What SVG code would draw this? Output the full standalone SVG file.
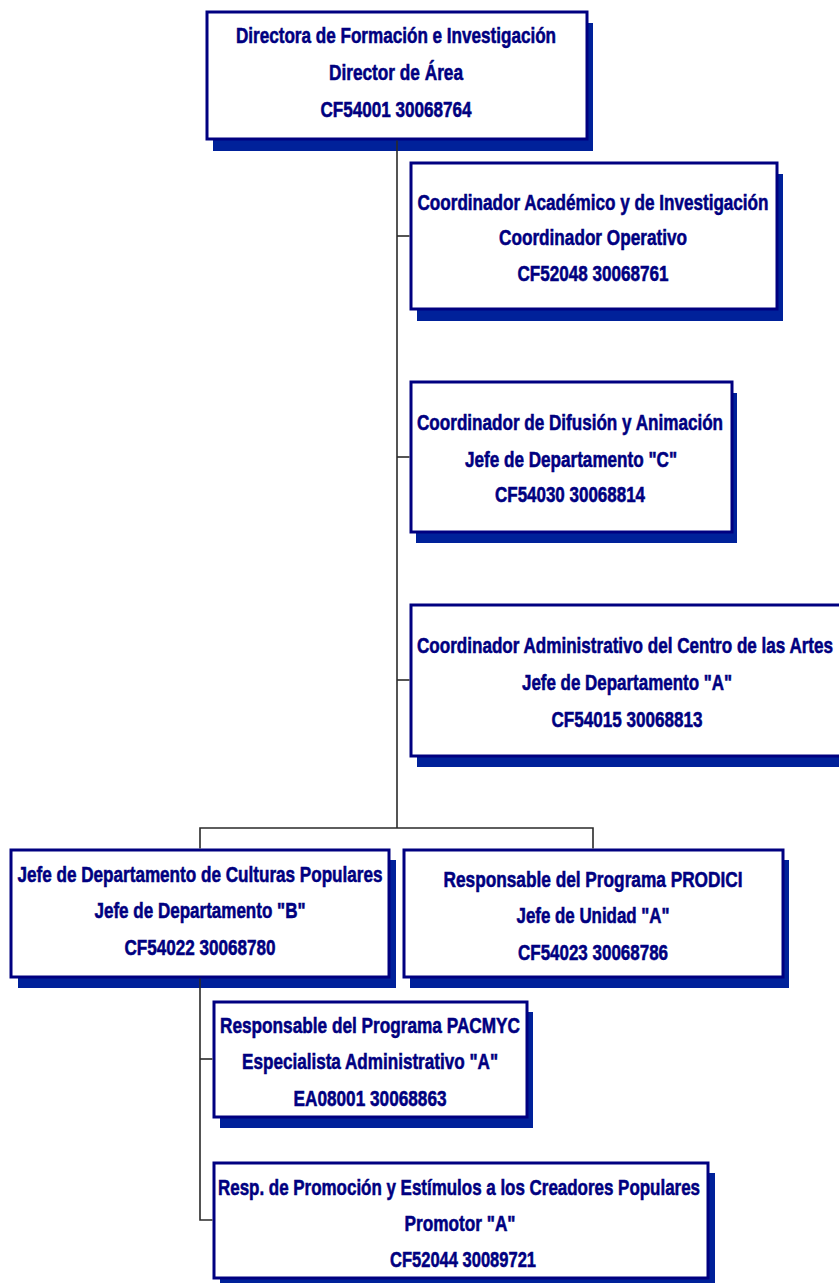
<svg xmlns="http://www.w3.org/2000/svg" width="839" height="1283" viewBox="0 0 839 1283">
<style>
.sh{fill:#00219a}
.bx{fill:#ffffff;stroke:#000080;stroke-width:3}
.t{font-family:"Liberation Sans",Arial,sans-serif;font-weight:bold;font-size:21.5px;fill:#000080;stroke:#000080;stroke-width:0.55;text-anchor:middle}
.c{fill:none;stroke:#2a2a2a;stroke-width:1.6}
</style>
<rect width="839" height="1283" fill="#ffffff"/>
<g id="n1">
<rect class="sh" x="213" y="23" width="380" height="128"/>
<rect class="bx" x="207" y="12" width="380" height="127"/>
<text class="t" transform="translate(396 43) scale(0.75 1)" x="0" y="0" textLength="426.7" lengthAdjust="spacingAndGlyphs">Directora de Formación e Investigación</text>
<text class="t" transform="translate(396 80) scale(0.75 1)" x="0" y="0" textLength="178.7" lengthAdjust="spacingAndGlyphs">Director de Área</text>
<text class="t" transform="translate(396 117) scale(0.75 1)" x="0" y="0" textLength="201.3" lengthAdjust="spacingAndGlyphs">CF54001 30068764</text>
</g>
<g id="n2">
<rect class="sh" x="417" y="174" width="366" height="147"/>
<rect class="bx" x="411" y="163" width="366" height="146"/>
<text class="t" transform="translate(593 210) scale(0.75 1)" x="0" y="0" textLength="468" lengthAdjust="spacingAndGlyphs">Coordinador Académico y de Investigación</text>
<text class="t" transform="translate(593 245) scale(0.75 1)" x="0" y="0" textLength="250.7" lengthAdjust="spacingAndGlyphs">Coordinador Operativo</text>
<text class="t" transform="translate(593 281) scale(0.75 1)" x="0" y="0" textLength="201.3" lengthAdjust="spacingAndGlyphs">CF52048 30068761</text>
</g>
<g id="n3">
<rect class="sh" x="416" y="393" width="321" height="150"/>
<rect class="bx" x="411" y="382" width="321" height="150"/>
<text class="t" transform="translate(570 430) scale(0.75 1)" x="0" y="0" textLength="408" lengthAdjust="spacingAndGlyphs">Coordinador de Difusión y Animación</text>
<text class="t" transform="translate(571 467) scale(0.75 1)" x="0" y="0" textLength="282.7" lengthAdjust="spacingAndGlyphs">Jefe de Departamento "C"</text>
<text class="t" transform="translate(570 502) scale(0.75 1)" x="0" y="0" textLength="200" lengthAdjust="spacingAndGlyphs">CF54030 30068814</text>
</g>
<g id="n4">
<rect class="sh" x="417" y="616" width="440" height="151"/>
<rect class="bx" x="411" y="605" width="440" height="151"/>
<text class="t" transform="translate(625 653) scale(0.75 1)" x="0" y="0" textLength="554.7" lengthAdjust="spacingAndGlyphs">Coordinador Administrativo del Centro de las Artes</text>
<text class="t" transform="translate(627 690) scale(0.75 1)" x="0" y="0" textLength="280" lengthAdjust="spacingAndGlyphs">Jefe de Departamento "A"</text>
<text class="t" transform="translate(627 727) scale(0.75 1)" x="0" y="0" textLength="201.3" lengthAdjust="spacingAndGlyphs">CF54015 30068813</text>
</g>
<g id="n5">
<rect class="sh" x="18" y="860" width="378" height="128"/>
<rect class="bx" x="11" y="850" width="378" height="127"/>
<text class="t" transform="translate(200 882) scale(0.75 1)" x="0" y="0" textLength="486.7" lengthAdjust="spacingAndGlyphs">Jefe de Departamento de Culturas Populares</text>
<text class="t" transform="translate(200 918) scale(0.75 1)" x="0" y="0" textLength="281.3" lengthAdjust="spacingAndGlyphs">Jefe de Departamento "B"</text>
<text class="t" transform="translate(200 955) scale(0.75 1)" x="0" y="0" textLength="201.3" lengthAdjust="spacingAndGlyphs">CF54022 30068780</text>
</g>
<g id="n6">
<rect class="sh" x="410" y="860" width="379" height="128"/>
<rect class="bx" x="404" y="850" width="379" height="127"/>
<text class="t" transform="translate(593 887) scale(0.75 1)" x="0" y="0" textLength="398.7" lengthAdjust="spacingAndGlyphs">Responsable del Programa PRODICI</text>
<text class="t" transform="translate(593 923) scale(0.75 1)" x="0" y="0" textLength="204" lengthAdjust="spacingAndGlyphs">Jefe de Unidad "A"</text>
<text class="t" transform="translate(593 960) scale(0.75 1)" x="0" y="0" textLength="200" lengthAdjust="spacingAndGlyphs">CF54023 30068786</text>
</g>
<g id="n7">
<rect class="sh" x="220" y="1012" width="313" height="116"/>
<rect class="bx" x="214" y="1002" width="313" height="115"/>
<text class="t" transform="translate(370 1033) scale(0.75 1)" x="0" y="0" textLength="400" lengthAdjust="spacingAndGlyphs">Responsable del Programa PACMYC</text>
<text class="t" transform="translate(370 1069) scale(0.75 1)" x="0" y="0" textLength="341.3" lengthAdjust="spacingAndGlyphs">Especialista Administrativo "A"</text>
<text class="t" transform="translate(370 1106) scale(0.75 1)" x="0" y="0" textLength="204" lengthAdjust="spacingAndGlyphs">EA08001 30068863</text>
</g>
<g id="n8">
<rect class="sh" x="220" y="1173" width="495" height="116"/>
<rect class="bx" x="214" y="1163" width="494" height="115"/>
<text class="t" transform="translate(459 1195) scale(0.75 1)" x="0" y="0" textLength="642.7" lengthAdjust="spacingAndGlyphs">Resp. de Promoción y Estímulos a los Creadores Populares</text>
<text class="t" transform="translate(460 1231) scale(0.75 1)" x="0" y="0" textLength="148" lengthAdjust="spacingAndGlyphs">Promotor "A"</text>
<text class="t" transform="translate(463 1267) scale(0.75 1)" x="0" y="0" textLength="194.7" lengthAdjust="spacingAndGlyphs">CF52044 30089721</text>
</g>
<g id="connectors">
<path class="c" d="M397 140.5V828"/>
<path class="c" d="M397 236H409.5"/>
<path class="c" d="M397 457H409.5"/>
<path class="c" d="M397 680H409.5"/>
<path class="c" d="M200 848.5V828H593V848.5"/>
<path class="c" d="M200 978.5V1220H212.5"/>
<path class="c" d="M200 1059H212.5"/>
</g>
</svg>
